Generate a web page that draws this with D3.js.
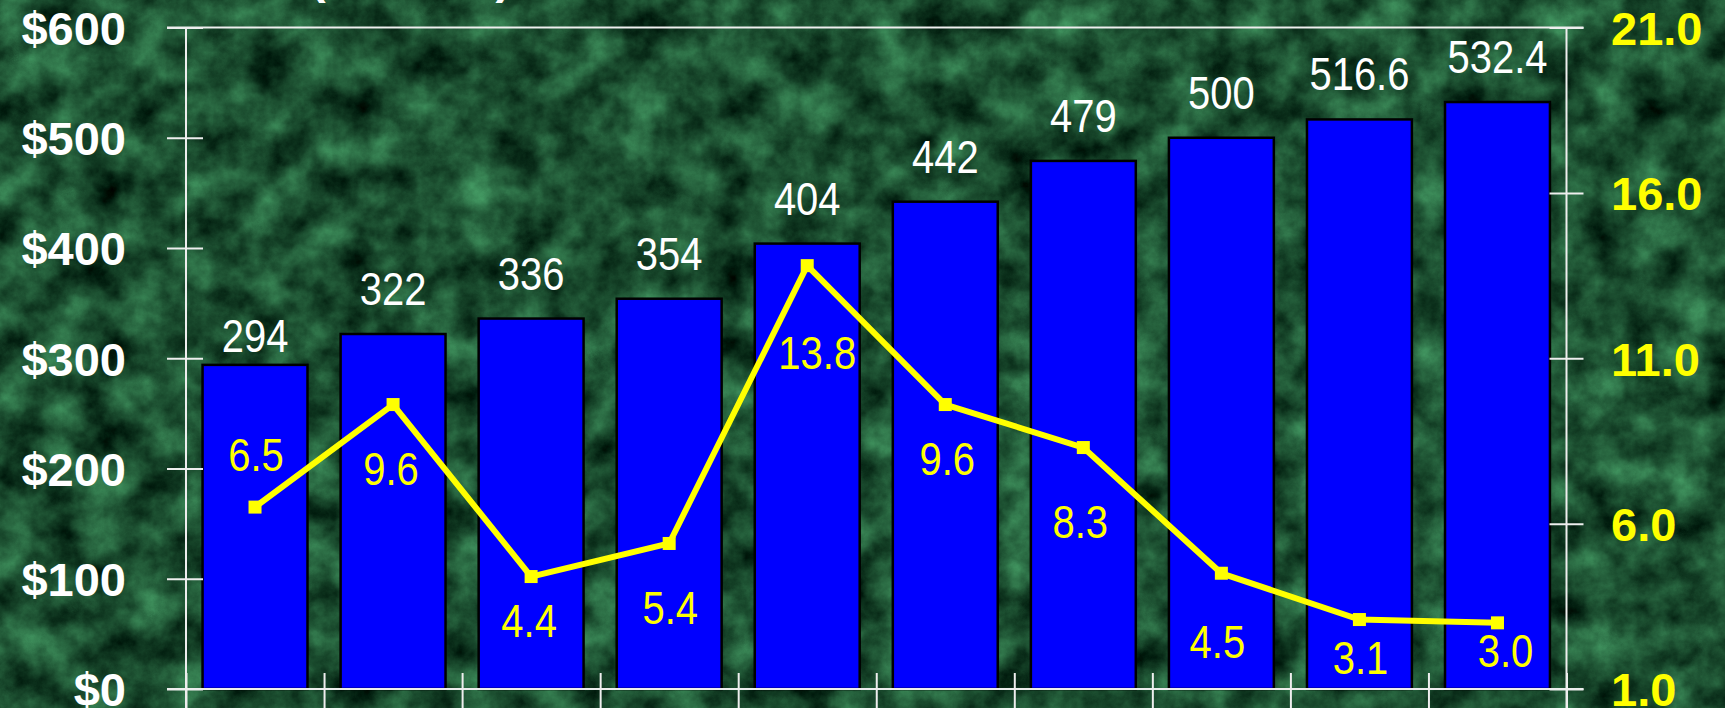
<!DOCTYPE html>
<html>
<head>
<meta charset="utf-8">
<script src="https://cdn.jsdelivr.net/npm/d3@7/dist/d3.min.js"></script>
<style>
  html, body { margin: 0; padding: 0; background: #1a4a2c; }
  svg { display: block; }
</style>
</head>
<body>
<svg id="chart" width="1725" height="708"></svg>
<script>
// ---------------- data ----------------
const categories = ["1","2","3","4","5","6","7","8","9","10"];
const barValues  = [294, 322, 336, 354, 404, 442, 479, 500, 516.6, 532.4];
const barLabels  = ["294","322","336","354","404","442","479","500","516.6","532.4"];
const lineValues = [6.5, 9.6, 4.4, 5.4, 13.8, 9.6, 8.3, 4.5, 3.1, 3.0];
const leftTicks  = [0, 100, 200, 300, 400, 500, 600];
const rightTicks = [1, 6, 11, 16, 21];

// ---------------- layout ----------------
const W = 1725, H = 708;
const X0 = 186, X1 = 1566.5, YTOP = 27.5, YBOT = 689;
// per-label placement tweaks (pixels), as hand-placed in the original
const barLabelGap   = [13, 29, 29, 29, 29, 29, 29, 29, 29, 29];
const rateLabelDy   = [-36, 80, 60, 81, 103, 70, 90, 85, 54, 44];
const rateLabelDx   = [1, -2, -2, 1, 10, 2, -3, -4, 1, 8];

const font = "'Liberation Sans',Arial,sans-serif";
const NARROW = 0.85;   // Arial-Narrow-like horizontal squeeze
const LABEL_SIZE = 47;

const svg = d3.select("#chart");

// background marble texture
const defs = svg.append("defs");
const f = defs.append("filter").attr("id", "marble")
  .attr("x", 0).attr("y", 0).attr("width", "100%").attr("height", "100%")
  .attr("color-interpolation-filters", "sRGB");
f.append("feTurbulence").attr("type", "fractalNoise")
  .attr("baseFrequency", "0.024").attr("numOctaves", 7).attr("seed", 11).attr("result", "n");
f.append("feColorMatrix").attr("type", "matrix").attr("in", "n")
  .attr("values", "0.36 0 0 0 -0.07  0.68 0 0 0 -0.03  0.46 0 0 0 -0.04  0 0 0 0 1");
svg.append("rect").attr("width", W).attr("height", H).attr("fill", "#1a4a2c");
svg.append("rect").attr("width", W).attr("height", H).attr("filter", "url(#marble)");

// scales
const x = d3.scaleBand().domain(categories).range([X0, X1]).paddingInner(0.24).paddingOuter(0.12);
const xEdge = d3.scaleLinear().domain([0, categories.length]).range([X0, X1]);
const yL = d3.scaleLinear().domain([0, 600]).range([YBOT, YTOP]);
const yR = d3.scaleLinear().domain([1, 21]).range([YBOT, YTOP]);

// partial (cut-off) titles at the very top
svg.append("text").attr("x", 310).attr("y", -7)
  .attr("font-family", font).attr("font-weight", "bold").attr("font-size", 47)
  .attr("fill", "#fff").text("(Billions)");
svg.append("text").attr("x", 1626).attr("y", -4)
  .attr("font-family", font).attr("font-weight", "bold").attr("font-size", 47)
  .attr("fill", "#ffff00").text("%");

// bars
svg.append("g").selectAll("rect").data(barValues).join("rect")
  .attr("x", (d, i) => x(categories[i]))
  .attr("width", x.bandwidth())
  .attr("y", d => yL(d))
  .attr("height", d => yL(0) - yL(d))
  .attr("fill", "#0000ff")
  .attr("stroke", "#000").attr("stroke-width", 2.5);

// axes
const axisStyle = g => {
  g.select(".domain").remove();
  g.selectAll(".tick line").attr("stroke", "#eeeeee").attr("stroke-width", 2);
};

// left axis
const gL = svg.append("g").attr("transform", `translate(${X0},0)`)
  .call(d3.axisLeft(yL).tickValues(leftTicks).tickFormat(d => "$" + d).tickSize(19))
  .call(axisStyle);
gL.selectAll(".tick line").attr("x1", 17).attr("x2", -19);
gL.selectAll(".tick text").attr("x", -60).attr("dy", "0.36em")
  .attr("font-family", font).attr("font-weight", "bold").attr("font-size", 47)
  .attr("fill", "#fff").attr("text-anchor", "end");

// right axis
const gR = svg.append("g").attr("transform", `translate(${X1},0)`)
  .call(d3.axisRight(yR).tickValues(rightTicks).tickFormat(d3.format(".1f")).tickSize(17))
  .call(axisStyle);
gR.selectAll(".tick line").attr("x1", -17).attr("x2", 17);
gR.selectAll(".tick text").attr("x", 44.5).attr("dy", "0.36em")
  .attr("font-family", font).attr("font-weight", "bold").attr("font-size", 47)
  .attr("fill", "#ffff00").attr("text-anchor", "start");

// bottom axis (tick marks at category boundaries)
const gB = svg.append("g").attr("transform", `translate(0,${YBOT})`)
  .call(d3.axisBottom(xEdge).tickValues(d3.range(0, categories.length + 1)).tickFormat("").tickSize(20))
  .call(axisStyle);
gB.selectAll(".tick line").attr("y1", -16).attr("y2", 20);

// frame lines
const frame = svg.append("g").attr("stroke", "#eeeeee").attr("stroke-width", 2);
frame.append("line").attr("x1", X0 - 19).attr("x2", X1 + 17).attr("y1", YTOP).attr("y2", YTOP);
frame.append("line").attr("x1", X0 - 19).attr("x2", X1 + 17).attr("y1", YBOT).attr("y2", YBOT);
frame.append("line").attr("x1", X0).attr("x2", X0).attr("y1", YTOP).attr("y2", H);
frame.append("line").attr("x1", X1).attr("x2", X1).attr("y1", YTOP).attr("y2", H);

// bar value labels (narrow face)
svg.append("g").selectAll("text").data(barValues).join("text")
  .attr("transform", (d, i) =>
    `translate(${x(categories[i]) + x.bandwidth() / 2},${yL(d) - barLabelGap[i]}) scale(${NARROW},1)`)
  .attr("text-anchor", "middle")
  .attr("font-family", font).attr("font-size", LABEL_SIZE)
  .attr("fill", "#fff")
  .text((d, i) => barLabels[i]);

// growth line
const cx = i => x(categories[i]) + x.bandwidth() / 2;
svg.append("path").datum(lineValues)
  .attr("d", d3.line().x((d, i) => cx(i)).y(d => yR(d)))
  .attr("fill", "none").attr("stroke", "#ffff00").attr("stroke-width", 6).attr("stroke-linejoin", "miter");
svg.append("g").selectAll("rect").data(lineValues).join("rect")
  .attr("x", (d, i) => cx(i) - 6.5).attr("y", d => yR(d) - 6.5)
  .attr("width", 13).attr("height", 13).attr("fill", "#ffff00");

// growth labels
svg.append("g").selectAll("text").data(lineValues).join("text")
  .attr("transform", (d, i) =>
    `translate(${cx(i) + rateLabelDx[i]},${yR(d) + rateLabelDy[i]}) scale(${NARROW},1)`)
  .attr("text-anchor", "middle")
  .attr("font-family", font).attr("font-size", LABEL_SIZE)
  .attr("fill", "#ffff00")
  .text(d => d3.format(".1f")(d));
</script>
</body>
</html>
